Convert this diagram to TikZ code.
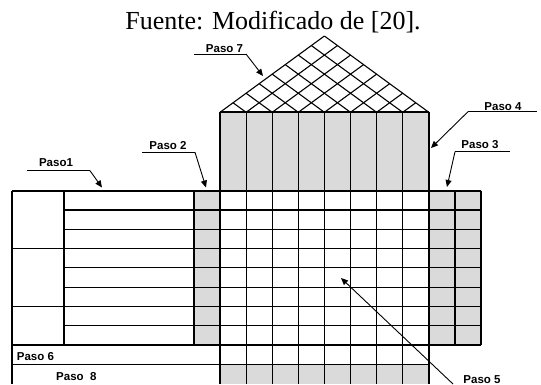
\documentclass[tikz,border=0pt]{standalone}
\usepackage{fontspec}
\setmainfont{Liberation Serif}
\setsansfont{Liberation Sans}
\usetikzlibrary{arrows.meta}
\definecolor{cellgray}{RGB}{218,218,218}
\tikzset{
  thinln/.style={line width=1.1pt, black},
  thickln/.style={line width=1.7pt, black},
  lbl/.style={font=\sffamily\bfseries\fontsize{11.5}{13}\selectfont, inner sep=0pt, anchor=base},
  pointer/.style={line width=0.9pt, -{Triangle[length=7pt,width=6pt]}},
  uline/.style={line width=0.9pt},
}
\begin{document}
\begin{tikzpicture}[x=1pt,y=-1pt]
\useasboundingbox (0,0) rectangle (541,384);
% title
\node[font=\rmfamily\fontsize{26}{30}\selectfont, inner sep=0pt, anchor=base] (title) at (273,29.3) {Fuente: Modificado de [20].};
% fills
\fill[cellgray] (220,112.3) rectangle (428.8,190.7);
\fill[cellgray] (428.8,190.7) rectangle (481,345.1);
\fill[cellgray] (194,190.7) rectangle (220,345.1);
\fill[cellgray] (220,364.4) rectangle (428.8,384);
% roof lattice
\foreach \i in {0,...,8}{
  \draw[thinln] (220+\i*26.1,112.3) -- ++({(8-\i)*13.05},{-(8-\i)*9.5375});
  \draw[thinln] (220+\i*26.1,112.3) -- ++({-\i*13.05},{-\i*9.5375});
}
% main grid verticals
\foreach \i in {1,...,7}{
  \draw[thinln] (220+\i*26.1,112.3) -- (220+\i*26.1,384);
}
% row lines
\foreach \j in {1,...,7}{
  \draw[thinln] (64,190.7+\j*19.3) -- (481,190.7+\j*19.3);
}
\draw[thinln] (12,248.6) -- (64,248.6);
\draw[thinln] (12,306.5) -- (64,306.5);
\draw[thinln] (64,190.7) -- (64,345.1);
\draw[thinln] (455,190.7) -- (455,345.1);
% thick outlines
\draw[thickln] (220,112.3) -- (428.8,112.3);
\draw[thickln] (12,190.7) -- (481,190.7);
\draw[thickln] (12,345.1) -- (481,345.1);
\draw[thickln] (12,364.4) -- (428.8,364.4);
\draw[thickln] (12,190.7) -- (12,384);
\draw[thickln] (194,190.7) -- (194,345.1);
\draw[thickln] (220,112.3) -- (220,384);
\draw[thickln] (428.8,112.3) -- (428.8,384);
\draw[thickln] (481,190.7) -- (481,345.1);
% labels with pointers
\coordinate (p1a) at (27,170.7); \coordinate (p1b) at (90,170.7); \coordinate (p1t) at (102,187.5);
\node[lbl] (l1) at (56,166) {Paso1};
\draw[uline] (p1a) -- (p1b); \draw[pointer] (p1b) -- (p1t);

\coordinate (p2a) at (142,152.3); \coordinate (p2b) at (195,152.3); \coordinate (p2t) at (206,187.5);
\node[lbl] (l2) at (168,149.3) {Paso 2};
\draw[uline] (p2a) -- (p2b); \draw[pointer] (p2b) -- (p2t);

\coordinate (p3a) at (455,151.7); \coordinate (p3b) at (510,151.7); \coordinate (p3t) at (447,187);
\node[lbl] (l3) at (480,148) {Paso 3};
\draw[uline] (p3a) -- (p3b); \draw[pointer] (p3a) -- (p3t);

\coordinate (p4a) at (468,111.7); \coordinate (p4b) at (537,111.7); \coordinate (p4t) at (431,148);
\node[lbl] (l4) at (503,110) {Paso 4};
\draw[uline] (p4a) -- (p4b); \draw[pointer] (p4a) -- (p4t);

\coordinate (p5a) at (453,384); \coordinate (p5t) at (341,278);
\node[lbl] (l5) at (482,383) {Paso 5};
\draw[pointer] (p5a) -- (p5t);

\node[lbl, anchor=base west] (l6) at (16.7,360) {Paso 6};
\node[lbl, anchor=base west] (l8) at (56,380) {Paso\ \ 8};

\coordinate (p7a) at (194,54); \coordinate (p7b) at (246,54); \coordinate (p7t) at (263,76);
\node[lbl] (l7) at (224.5,52) {Paso 7};
\draw[uline] (p7a) -- (p7b); \draw[pointer] (p7b) -- (p7t);
\end{tikzpicture}
\end{document}
